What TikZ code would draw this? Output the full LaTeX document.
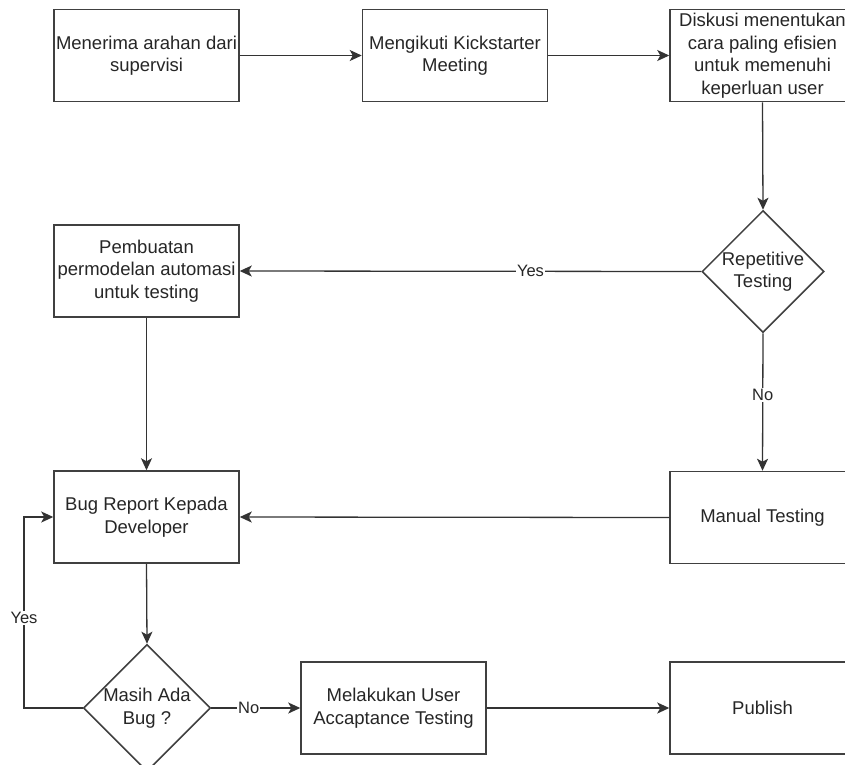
\documentclass[tikz,border=0pt]{standalone}
\usepackage{fontspec}
\setmainfont{Liberation Sans}
\usetikzlibrary{arrows.meta,shapes.geometric}
\begin{document}
\begin{tikzpicture}[x=1pt,y=-1pt,
  every node/.style={font=\fontsize{18.5}{22.5}\selectfont, text=black!85},
  box/.style={draw=black!75, line width=1.5pt, rectangle, minimum width=185pt, minimum height=92pt, inner sep=0pt, align=center, fill=white},
  dec/.style={draw=black!75, line width=1.5pt, diamond, minimum width=122pt, minimum height=122pt, inner sep=0pt, align=center, aspect=1, fill=white},
  conn/.style={draw=black!80, line width=1.3pt},
  arr/.style={conn, -{Stealth[length=12pt,width=11pt,inset=3pt]}},
  lbl/.style={fill=white, inner sep=1pt, font=\fontsize{16.5}{20}\selectfont}
]
\useasboundingbox (0,0) rectangle (845,764);
\clip (0,0) rectangle (845,764);
\fill[white] (0,0) rectangle (845,764);

\node[box] (b1) at (146.5,55.5) {Menerima arahan dari\\supervisi};
\node[box] (b2) at (455,55.5) {Mengikuti Kickstarter\\Meeting};
\node[box] (b3) at (762.5,55.5) {Diskusi menentukan\\cara paling efisien\\untuk memenuhi\\keperluan user};
\node[dec] (d1) at (763,271.5) {Repetitive\\Testing};
\node[box] (b4) at (146.5,271) {Pembuatan\\permodelan automasi\\untuk testing};
\node[box] (mt) at (762.5,517.5) {Manual Testing};
\node[box] (br) at (146.5,517) {Bug Report Kepada\\Developer};
\node[dec] (d2) at (147,708) {Masih Ada\\Bug ?};
\node[box] (uat) at (393.5,708) {Melakukan User\\Accaptance Testing};
\node[box] (pub) at (762.5,708) {Publish};

\draw[arr] (b1.east) -- (b2.west);
\draw[arr] (b2.east) -- (b3.west);
\draw[arr] (b3.south) -- (d1.north);
\draw[arr] (d1.west) -- node[lbl,pos=0.37]{Yes} (b4.east);
\draw[arr] (d1.south) -- node[lbl,pos=0.45]{No} (mt.north);
\draw[arr] (mt.west) -- (br.east);
\draw[arr] (b4.south) -- (br.north);
\draw[arr] (br.south) -- (d2.north);
\coordinate (lp) at (24,708);
\coordinate (lt) at (24,517);
\draw[arr] (d2.west) -- (lp) -- node[lbl,pos=0.47]{Yes} (lt) -- (br.west);
\draw[arr] (d2.east) -- node[lbl,pos=0.42]{No} (uat.west);
\draw[arr] (uat.east) -- (pub.west);
\end{tikzpicture}
\end{document}
